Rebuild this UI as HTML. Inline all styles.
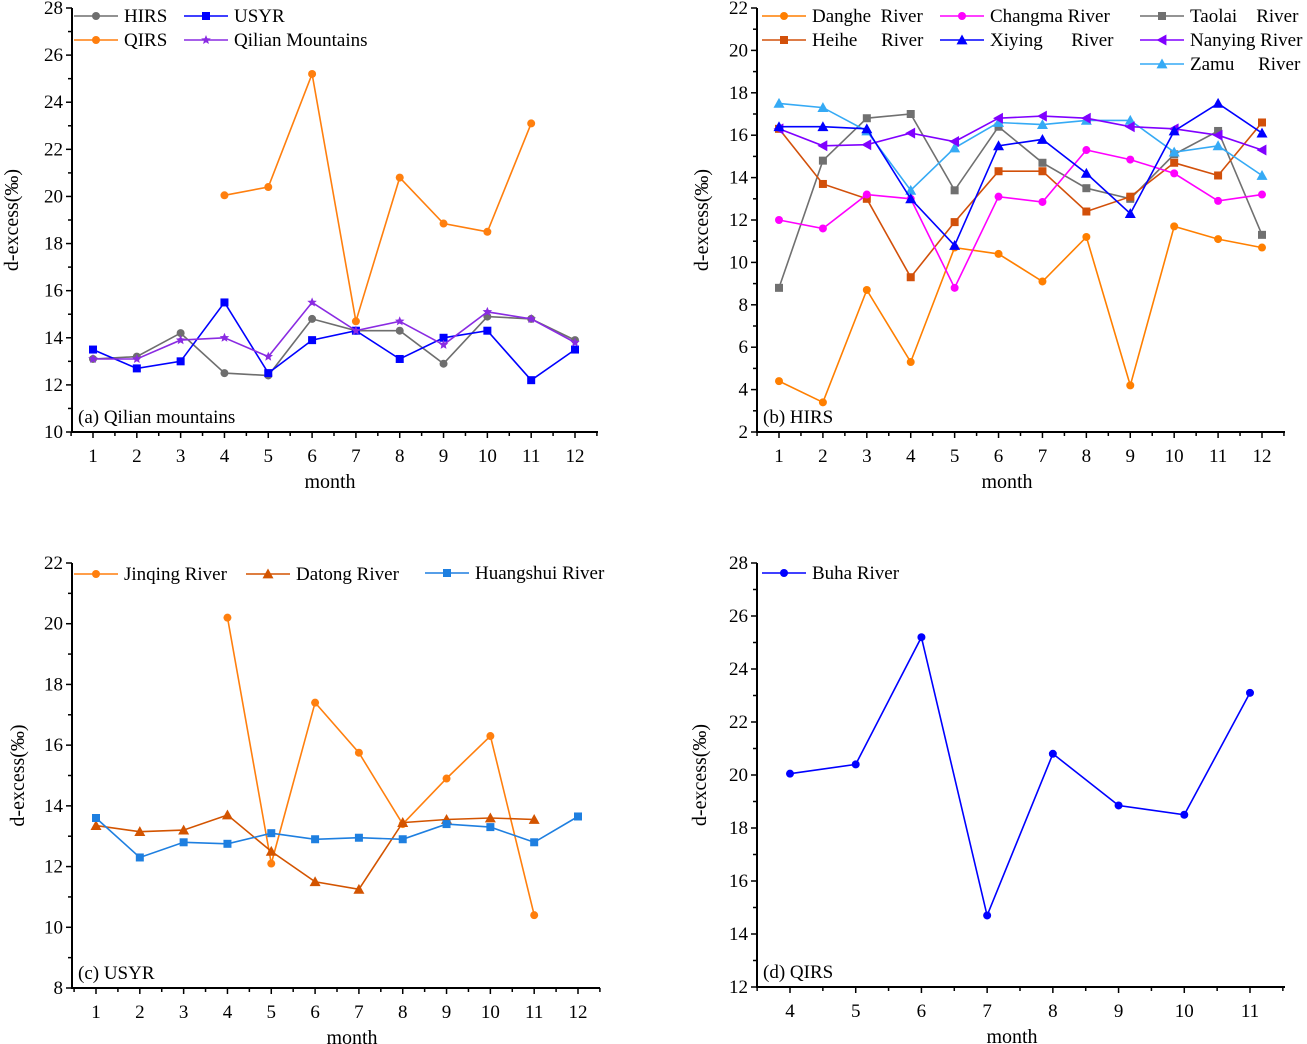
<!DOCTYPE html>
<html><head><meta charset="utf-8"><style>
html,body{margin:0;padding:0;background:#fff;}
svg{display:block;font-family:"Liberation Serif",serif;}
</style></head><body>
<svg id="s" width="1307" height="1044"></svg>
<script>
// Panel (a) data
const monthsA = [1,2,3,4,5,6,7,8,9,10,11,12];
const hirsA = [13.1,13.2,14.2,12.5,12.4,14.8,14.3,14.3,12.9,14.9,14.8,13.9];
const usyrA = [13.5,12.7,13.0,15.5,12.5,13.9,14.3,13.1,14.0,14.3,12.2,13.5];
const qirsMonthsA = [4,5,6,7,8,9,10,11];
const qirsA = [20.05,20.4,25.2,14.7,20.8,18.85,18.5,23.1];
const qilianA = [13.1,13.1,13.9,14.0,13.2,15.5,14.3,14.7,13.7,15.1,14.8,13.8];
// Panel (b) data
const danghe = [4.4,3.4,8.7,5.3,10.7,10.4,9.1,11.2,4.2,11.7,11.1,10.7];
const changma = [12.0,11.6,13.2,13.0,8.8,13.1,12.85,15.3,14.85,14.2,12.9,13.2];
const taolai = [8.8,14.8,16.8,17.0,13.4,16.4,14.7,13.5,13.0,15.1,16.2,11.3];
const heihe = [16.3,13.7,13.0,9.3,11.9,14.3,14.3,12.4,13.1,14.7,14.1,16.6];
const xiying = [16.4,16.4,16.3,13.0,10.8,15.5,15.8,14.2,12.3,16.2,17.5,16.1];
const nanying = [16.3,15.5,15.55,16.1,15.7,16.8,16.9,16.8,16.4,16.3,16.0,15.3];
const zamu = [17.5,17.3,16.2,13.4,15.4,16.6,16.5,16.7,16.7,15.2,15.5,14.1];
// Panel (c) data
const jinqingMonths = [4,5,6,7,8,9,10,11];
const jinqing = [20.2,12.1,17.4,15.75,13.4,14.9,16.3,10.4];
const datongMonths = [1,2,3,4,5,6,7,8,9,10,11];
const datong = [13.35,13.15,13.2,13.7,12.5,11.5,11.25,13.45,13.55,13.6,13.55];
const huangshui = [13.6,12.3,12.8,12.75,13.1,12.9,12.95,12.9,13.4,13.3,12.8,13.65];
// Panel (d) data
const buhaMonths = [4,5,6,7,8,9,10,11];
const buha = [20.05,20.4,25.2,14.7,20.8,18.85,18.5,23.1];

const NS="http://www.w3.org/2000/svg";
const svg=document.getElementById('s');
function mk(tag,attrs,parent){const e=document.createElementNS(NS,tag);for(const k in attrs)e.setAttribute(k,attrs[k]);(parent||svg).appendChild(e);return e;}

function marker(g,type,x,y,c,sz){
  let e;
  if(type==='circle'){e=mk('circle',{cx:x,cy:y,r:sz||4,fill:c},g);}
  else if(type==='square'){const s=sz||4;e=mk('rect',{x:x-s,y:y-s,width:2*s,height:2*s,fill:c},g);}
  else if(type==='tri'){const s=sz||5.5;e=mk('polygon',{points:`${x},${y-s} ${x-s},${y+s*0.8} ${x+s},${y+s*0.8}`,fill:c},g);}
  else if(type==='ltri'){const s=sz||5.5;e=mk('polygon',{points:`${x-s},${y} ${x+s*0.8},${y-s} ${x+s*0.8},${y+s}`,fill:c},g);}
  else if(type==='star'){const s=sz||5;let p=[];for(let i=0;i<10;i++){const r=i%2?s*0.45:s;const a=-Math.PI/2+i*Math.PI/5;p.push((x+r*Math.cos(a)).toFixed(1)+','+(y+r*Math.sin(a)).toFixed(1));}e=mk('polygon',{points:p.join(' '),fill:c},g);}
  return e;
}

function panel(cfg){
  const g=mk('g',{});
  
  
  const X=m=>cfg.x0+(m-cfg.m0)*(cfg.x1-cfg.x0)/(cfg.m1-cfg.m0);
  const Y=v=>cfg.yb+(v-cfg.ymin)*(cfg.yt-cfg.yb)/(cfg.ymax-cfg.ymin);
  const ax=mk('line',{x1:cfg.axL,y1:cfg.yt,x2:cfg.axL,y2:cfg.yb+1,stroke:'#000','stroke-width':2},g);
  
  const bx=mk('line',{x1:cfg.axL-1,y1:cfg.yb,x2:cfg.axR,y2:cfg.yb,stroke:'#000','stroke-width':2},g);
  
  for(let v=cfg.ymin;v<=cfg.ymax+1e-6;v+=cfg.ystep/2){
    const major=Math.abs((v-cfg.ymin)/cfg.ystep-Math.round((v-cfg.ymin)/cfg.ystep))<1e-6;
    const y=Y(v);
    mk('line',{x1:cfg.axL-(major?6:4),y1:y,x2:cfg.axL,y2:y,stroke:'#000','stroke-width':1.5},g);
    if(major){const t=mk('text',{x:cfg.axL-9,y:y+6,'text-anchor':'end','font-size':19},g);t.textContent=v;
      }
  }
  for(let m=cfg.m0-0.5;m<=cfg.m1+0.5;m+=0.5){
    const x=X(m);if(x<cfg.axL-1||x>cfg.axR+1)continue;
    const major=Number.isInteger(m);
    mk('line',{x1:x,y1:cfg.yb,x2:x,y2:cfg.yb+(major?6:4),stroke:'#000','stroke-width':1.5},g);
    if(major){const t=mk('text',{x:x,y:cfg.yb+30,'text-anchor':'middle','font-size':19},g);t.textContent=m;
      }
  }
  const xt=mk('text',{x:cfg.mx,y:cfg.yb+56,'text-anchor':'middle','font-size':20},g);xt.textContent='month';
  
  const yt=mk('text',{x:0,y:0,'text-anchor':'middle','font-size':20,transform:`translate(${cfg.ytx},${(cfg.yt+cfg.yb)/2}) rotate(-90)`},g);yt.textContent='d-excess(‰)';
  
  const pl=mk('text',{x:cfg.axL+6,y:cfg.yb-9,'font-size':19},g);pl.textContent=cfg.label;
  
  cfg.series.forEach(s=>{
    const sg=mk('g',{},g);
    
    
    const pts=s.vals.map((v,i)=>X(s.m[i]).toFixed(1)+','+Y(v).toFixed(1)).join(' ');
    mk('polyline',{points:pts,fill:'none',stroke:s.c,'stroke-width':1.6},sg);
    s.vals.forEach((v,i)=>{const e=marker(sg,s.mk,X(s.m[i]),Y(v),s.c);
      
      });
  });
  cfg.legend.forEach(l=>{
    const s=cfg.series.find(q=>q.key===l.key);
    const lg=mk('g',{},g);
    
    
    mk('line',{x1:l.x,y1:l.y,x2:l.x+44,y2:l.y,stroke:s.c,'stroke-width':1.6},lg);
    marker(lg,s.mk,l.x+22,l.y,s.c);
    const t=mk('text',{x:l.x+50,y:l.y+6,'font-size':19,'xml:space':'preserve'},lg);
    t.style.whiteSpace='pre';t.textContent=l.t;
  });
}

panel({name:'panel-a-qilian',label:'(a) Qilian mountains',x0:93,x1:575,m0:1,m1:12,axL:72,axR:598,yt:8,yb:432,ymin:10,ymax:28,ystep:2,ytx:18,mx:330,
  series:[
    {key:'hirs',m:monthsA,vals:hirsA,c:'#6e6e6e',mk:'circle'},
    {key:'usyr',m:monthsA,vals:usyrA,c:'#0000ff',mk:'square'},
    {key:'qirs',m:qirsMonthsA,vals:qirsA,c:'#ff7f0e',mk:'circle'},
    {key:'qilian',m:monthsA,vals:qilianA,c:'#8a2be2',mk:'star'}],
  legend:[{key:'hirs',x:74,y:16,t:'HIRS'},{key:'usyr',x:184,y:16,t:'USYR'},{key:'qirs',x:74,y:40,t:'QIRS'},{key:'qilian',x:184,y:40,t:'Qilian Mountains'}]});

panel({name:'panel-b-hirs',label:'(b) HIRS',x0:779,x1:1262,m0:1,m1:12,axL:757,axR:1285,yt:8,yb:432,ymin:2,ymax:22,ystep:2,ytx:708,mx:1007,
  series:[
    {key:'taolai',m:monthsA,vals:taolai,c:'#707070',mk:'square'},
    {key:'heihe',m:monthsA,vals:heihe,c:'#d2500a',mk:'square'},
    {key:'danghe',m:monthsA,vals:danghe,c:'#ff7f00',mk:'circle'},
    {key:'changma',m:monthsA,vals:changma,c:'#ff00ff',mk:'circle'},
    {key:'zamu',m:monthsA,vals:zamu,c:'#35aaf5',mk:'tri'},
    {key:'nanying',m:monthsA,vals:nanying,c:'#8000ff',mk:'ltri'},
    {key:'xiying',m:monthsA,vals:xiying,c:'#0000ff',mk:'tri'}],
  legend:[{key:'danghe',x:762,y:16,t:'Danghe  River'},{key:'changma',x:940,y:16,t:'Changma River'},{key:'taolai',x:1140,y:16,t:'Taolai    River'},
    {key:'heihe',x:762,y:40,t:'Heihe     River'},{key:'xiying',x:940,y:40,t:'Xiying      River'},{key:'nanying',x:1140,y:40,t:'Nanying River'},
    {key:'zamu',x:1140,y:64,t:'Zamu     River'}]});

panel({name:'panel-c-usyr',label:'(c) USYR',x0:96,x1:578,m0:1,m1:12,axL:72,axR:600,yt:563,yb:988,ymin:8,ymax:22,ystep:2,ytx:24,mx:352,
  series:[
    {key:'jinqing',m:jinqingMonths,vals:jinqing,c:'#ff7f0e',mk:'circle'},
    {key:'datong',m:datongMonths,vals:datong,c:'#d35400',mk:'tri'},
    {key:'huangshui',m:monthsA,vals:huangshui,c:'#1e7fe0',mk:'square'}],
  legend:[{key:'jinqing',x:74,y:574,t:'Jinqing River'},{key:'datong',x:246,y:574,t:'Datong River'},{key:'huangshui',x:425,y:573,t:'Huangshui River'}]});

panel({name:'panel-d-qirs',label:'(d) QIRS',x0:790,x1:1250,m0:4,m1:11,axL:757,axR:1285,yt:563,yb:987,ymin:12,ymax:28,ystep:2,ytx:706,mx:1012,
  series:[{key:'buha',m:buhaMonths,vals:buha,c:'#0000ff',mk:'circle'}],
  legend:[{key:'buha',x:762,y:573,t:'Buha River'}]});
</script>
</body></html>
